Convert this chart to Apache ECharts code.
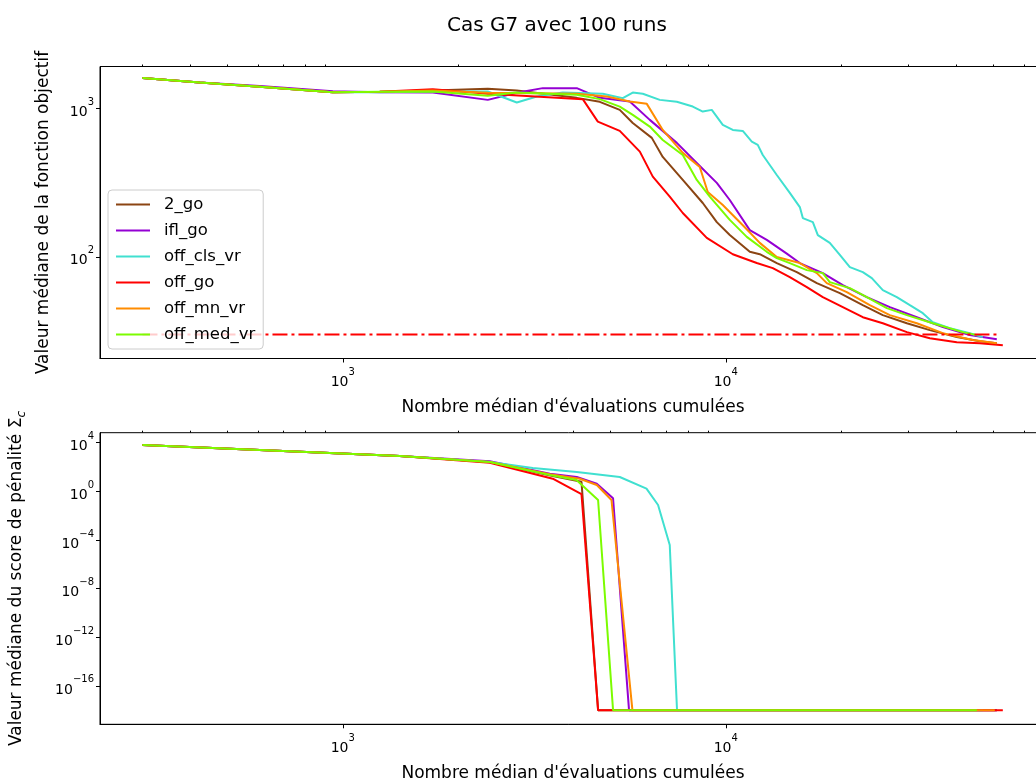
<!DOCTYPE html>
<html>
<head>
<meta charset="utf-8">
<title>Cas G7 avec 100 runs</title>
<script src="https://cdn.jsdelivr.net/npm/echarts@6/dist/echarts.min.js"></script>
<style>
  html, body { margin: 0; padding: 0; background: #fff; }
  #chart { width: 1036px; height: 783px; }
</style>
</head>
<body>
<div id="chart"></div>
<script>
// noms des variantes (ordre de la légende)
var seriesNames = ["2_go", "ifl_go", "off_cls_vr", "off_go", "off_mn_vr", "off_med_vr"];

// fonction objectif : [evaluations cumulées, valeur médiane]
var obj_2_go = [[300,1593],[423,1489],[607,1393],[942,1282],[1249,1290],[1718,1314],[2391,1349],[2847,1314],[4083,1173],[4688,1103],[5287,974],[5717,794],[6410,631],[6846,470],[7722,329],[8708,230],[9474,171],[10243,140],[11553,108],[12267,104],[13588,90.7],[15325,78.8],[17286,66.5],[19850,56.9],[22790,47.2],[25700,40.5],[29700,35.7],[34090,32.1],[40090,28.8],[46060,27.0],[51000,26.2]];
var obj_ifl_go = [[300,1593],[423,1489],[607,1410],[942,1300],[1249,1282],[1718,1274],[2391,1137],[2847,1268],[3328,1364],[4083,1364],[4688,1173],[5615,1108],[6333,834],[7450,584],[8400,428],[9474,314],[10243,241],[11553,151],[12794,130],[14430,105],[15607,90.7],[17920,77.6],[20210,64.5],[23340,53.5],[26810,45.8],[31530,39.2],[36870,33.6],[43370,29.7],[51000,27.9]];
var obj_off_cls_vr = [[300,1593],[423,1489],[607,1393],[942,1282],[1249,1282],[1718,1294],[2391,1294],[2847,1091],[3211,1197],[3753,1274],[4775,1249],[5384,1168],[5717,1274],[6073,1249],[6724,1137],[7450,1103],[8200,1025],[8708,949],[9193,974],[9822,772],[10430,714],[11076,703],[11692,596],[12120,566],[12490,484],[13588,355],[14694,269],[15607,216],[15890,182],[16876,171],[17390,140],[18686,124],[19850,103],[21080,85.2],[22790,78.8],[24060,71.9],[25700,59.7],[27960,53.5],[30240,47.2],[32690,41.7],[34710,36.3],[38450,33.1],[43370,30.6],[46890,28.8]];
var obj_off_go = [[300,1593],[423,1489],[607,1393],[942,1282],[1249,1290],[1718,1343],[2391,1249],[4233,1150],[4634,812],[5287,703],[5965,510],[6448,346],[7140,254],[7722,197],[8920,134],[10430,104],[12047,90.7],[13265,83.9],[14694,73.0],[16277,62.5],[17920,53.5],[20210,45.8],[22790,39.2],[25700,35.7],[29700,31.1],[34090,28.3],[40090,26.6],[46060,26.2],[52880,25.4]];
var obj_off_mn_vr = [[300,1593],[423,1489],[607,1393],[942,1282],[1249,1290],[1718,1314],[2391,1270],[4083,1249],[4891,1197],[5615,1108],[6220,1069],[6846,714],[7722,500],[8552,402],[8974,273],[9822,223],[11210,158],[12267,124],[13588,99.5],[15607,90.7],[17286,77.6],[18354,66.5],[20700,57.8],[23770,47.2],[26810,40.5],[31530,35.7],[36870,30.6],[44160,27.5],[51000,26.2]];
var obj_off_med_vr = [[300,1593],[423,1489],[607,1393],[942,1282],[1249,1290],[1718,1294],[2391,1210],[2847,1274],[4083,1229],[4688,1150],[5287,1025],[5717,901],[6333,752],[6846,611],[7722,484],[8400,329],[9083,254],[10243,177],[10430,169],[11345,136],[12794,108],[13588,98],[14694,90.7],[16277,81.3],[17920,77.6],[18686,67.5],[21080,61.5],[23340,53.5],[26330,45.1],[29700,40.5],[34710,35.7],[41560,31.1],[45240,29.7]];

// seuil horizontal (tiret-point)
var seuil = [[300,30],[52000,30]];

// score de pénalité : [evaluations cumulées, valeur médiane]
var pen_2_go = [[300,6500],[607,2500],[1409,806],[2420,259],[3534,18],[4200,6.2],[4641,1e-18],[51000,1e-18]];
var pen_ifl_go = [[300,6500],[607,2500],[1409,806],[2420,295],[3471,28.2],[4083,15.1],[4605,4.25],[5078,0.268],[5590,1e-18],[51000,1e-18]];
var pen_off_cls_vr = [[300,6500],[607,2500],[1409,806],[2420,259],[3134,83],[4083,38.9],[5287,15.1],[6209,1.65],[6656,0.075],[7140,3.9e-5],[7460,1e-18],[46890,1e-18]];
var pen_off_go = [[300,6500],[607,2500],[1409,806],[2420,227],[3534,10.9],[4200,0.6],[4641,1e-18],[52880,1e-18]];
var pen_off_mn_vr = [[300,6500],[607,2500],[1409,806],[2420,259],[3471,25],[4157,10.9],[4605,3.32],[5030,0.194],[5705,1e-18],[50390,1e-18]];
var pen_off_med_vr = [[300,6500],[607,2500],[1409,806],[2420,259],[3471,22],[4075,8.57],[4641,0.194],[5078,1e-18],[45240,1e-18]];

// graduations
var xMajor = [1000, 10000];
var xMinor = [300,400,500,600,700,800,900,2000,3000,4000,5000,6000,7000,8000,9000,20000,30000,40000,50000,60000];
var yObjMajor = [100, 1000];
var yObjMinor = [30,40,50,60,70,80,90,200,300,400,500,600,700,800,900];
var yPenMajor = [1e4, 1, 1e-4, 1e-8, 1e-12, 1e-16];

var objData = [obj_2_go, obj_ifl_go, obj_off_cls_vr, obj_off_go, obj_off_mn_vr, obj_off_med_vr];
var penData = [pen_2_go, pen_ifl_go, pen_off_cls_vr, pen_off_go, pen_off_mn_vr, pen_off_med_vr];
var colors = ["#8b4513", "#9400d3", "#40e0d0", "#ff0000", "#ff8c00", "#7cfc00"];

var FONT = "DejaVu Sans";

function powLabel(v) {
  var e = Math.round(Math.log10(v));
  return "{b|10}{s|" + (e < 0 ? "\u2212" + (-e) : e) + "}";
}
var powRich = {
  b: { fontFamily: FONT, fontSize: 14, color: "#000", lineHeight: 22, verticalAlign: "bottom" },
  s: { fontFamily: FONT, fontSize: 10, color: "#000", lineHeight: 12, verticalAlign: "top" }
};

function mainAxis(gridIndex, min, max, labels, margin, extra) {
  var ax = {
    type: "log",
    gridIndex: gridIndex,
    min: min,
    max: max,
    splitLine: { show: false },
    axisLine: { show: true, lineStyle: { color: "#000", width: 1 } },
    axisTick: { show: true, length: 4, customValues: labels, lineStyle: { color: "#000" } },
    axisLabel: { customValues: labels, formatter: powLabel, rich: powRich, margin: margin }
  };
  for (var k in extra) ax[k] = extra[k];
  return ax;
}
function minorAxis(gridIndex, min, max, ticks) {
  return {
    type: "log",
    gridIndex: gridIndex,
    min: min,
    max: max,
    splitLine: { show: false },
    axisLine: { show: false },
    axisTick: { show: true, length: 2, customValues: ticks, lineStyle: { color: "#000" } },
    axisLabel: { show: false, customValues: ticks }
  };
}

var xMin = 232.4, xMax = 68550;
var nameStyle = { fontFamily: FONT, fontSize: 17, color: "#000" };
var xName = "Nombre médian d'évaluations cumulées";

var series = [];
objData.forEach(function (d, i) {
  series.push({
    name: seriesNames[i], type: "line", data: d, xAxisIndex: 0, yAxisIndex: 0,
    symbol: "none", showSymbol: false,
    lineStyle: { width: 2, color: colors[i] }, itemStyle: { color: colors[i] }
  });
});
series.push({
  name: "seuil", type: "line", data: seuil, xAxisIndex: 0, yAxisIndex: 0,
  symbol: "none", showSymbol: false, z: 3,
  lineStyle: { width: 2, color: "#ff0000", type: [15, 4, 3, 4] }
});
penData.forEach(function (d, i) {
  series.push({
    name: seriesNames[i], type: "line", data: d, xAxisIndex: 2, yAxisIndex: 2,
    symbol: "none", showSymbol: false,
    lineStyle: { width: 2, color: colors[i] }, itemStyle: { color: colors[i] }
  });
});

var chart = echarts.init(document.getElementById("chart"));
chart.setOption({
  animation: false,
  backgroundColor: "#fff",
  title: {
    text: "Cas G7 avec 100 runs",
    left: 442, top: 11,
    textStyle: { fontFamily: FONT, fontSize: 20, fontWeight: "normal", color: "#000" }
  },
  legend: {
    data: seriesNames,
    orient: "vertical",
    left: 108, top: 190,
    padding: [6, 8, 6, 7],
    itemWidth: 34, itemHeight: 14, itemGap: 9,
    itemStyle: { opacity: 0 },
    lineStyle: { width: 2 },
    backgroundColor: "rgba(255,255,255,0.8)",
    borderColor: "#cccccc", borderWidth: 1, borderRadius: 4,
    textStyle: { fontFamily: FONT, fontSize: 16.5, color: "#000", padding: [0, 0, 0, 9] },
    z: 10
  },
  grid: [
    { left: 100, top: 66.5, width: 946, height: 292, show: true, borderColor: "#000", borderWidth: 1, outerBoundsMode: "none", containLabel: false },
    { left: 100, top: 432.7, width: 946, height: 291.6, show: true, borderColor: "#000", borderWidth: 1, outerBoundsMode: "none", containLabel: false }
  ],
  xAxis: [
    mainAxis(0, xMin, xMax, xMajor, 9, { name: xName, nameLocation: "middle", nameGap: 41, nameTextStyle: nameStyle }),
    minorAxis(0, xMin, xMax, xMinor),
    mainAxis(1, xMin, xMax, xMajor, 9, { name: xName, nameLocation: "middle", nameGap: 41, nameTextStyle: nameStyle }),
    minorAxis(1, xMin, xMax, xMinor)
  ],
  yAxis: [
    mainAxis(0, 20.67, 1907, yObjMajor, 6, {
      name: "Valeur médiane de la fonction objectif", nameLocation: "middle", nameRotate: 90,
      nameGap: 48, nameTextStyle: nameStyle
    }),
    minorAxis(0, 20.67, 1907, yObjMinor),
    mainAxis(1, 6.9e-20, 66400, yPenMajor, 6, {
      name: "{n|Valeur médiane du score de pénalité }{g|\u03a3}{c|c}", nameLocation: "middle", nameRotate: 90,
      nameGap: 72,
      nameTextStyle: {
        fontFamily: FONT, fontSize: 17, color: "#000",
        rich: {
          n: { fontFamily: FONT, fontSize: 17, color: "#000", lineHeight: 20, verticalAlign: "top" },
          g: { fontFamily: FONT, fontSize: 17, color: "#000", lineHeight: 20, verticalAlign: "top" },
          c: { fontFamily: FONT, fontSize: 12, fontStyle: "italic", color: "#000", lineHeight: 14, verticalAlign: "bottom" }
        }
      }
    })
  ],
  series: series
});
</script>
</body>
</html>
